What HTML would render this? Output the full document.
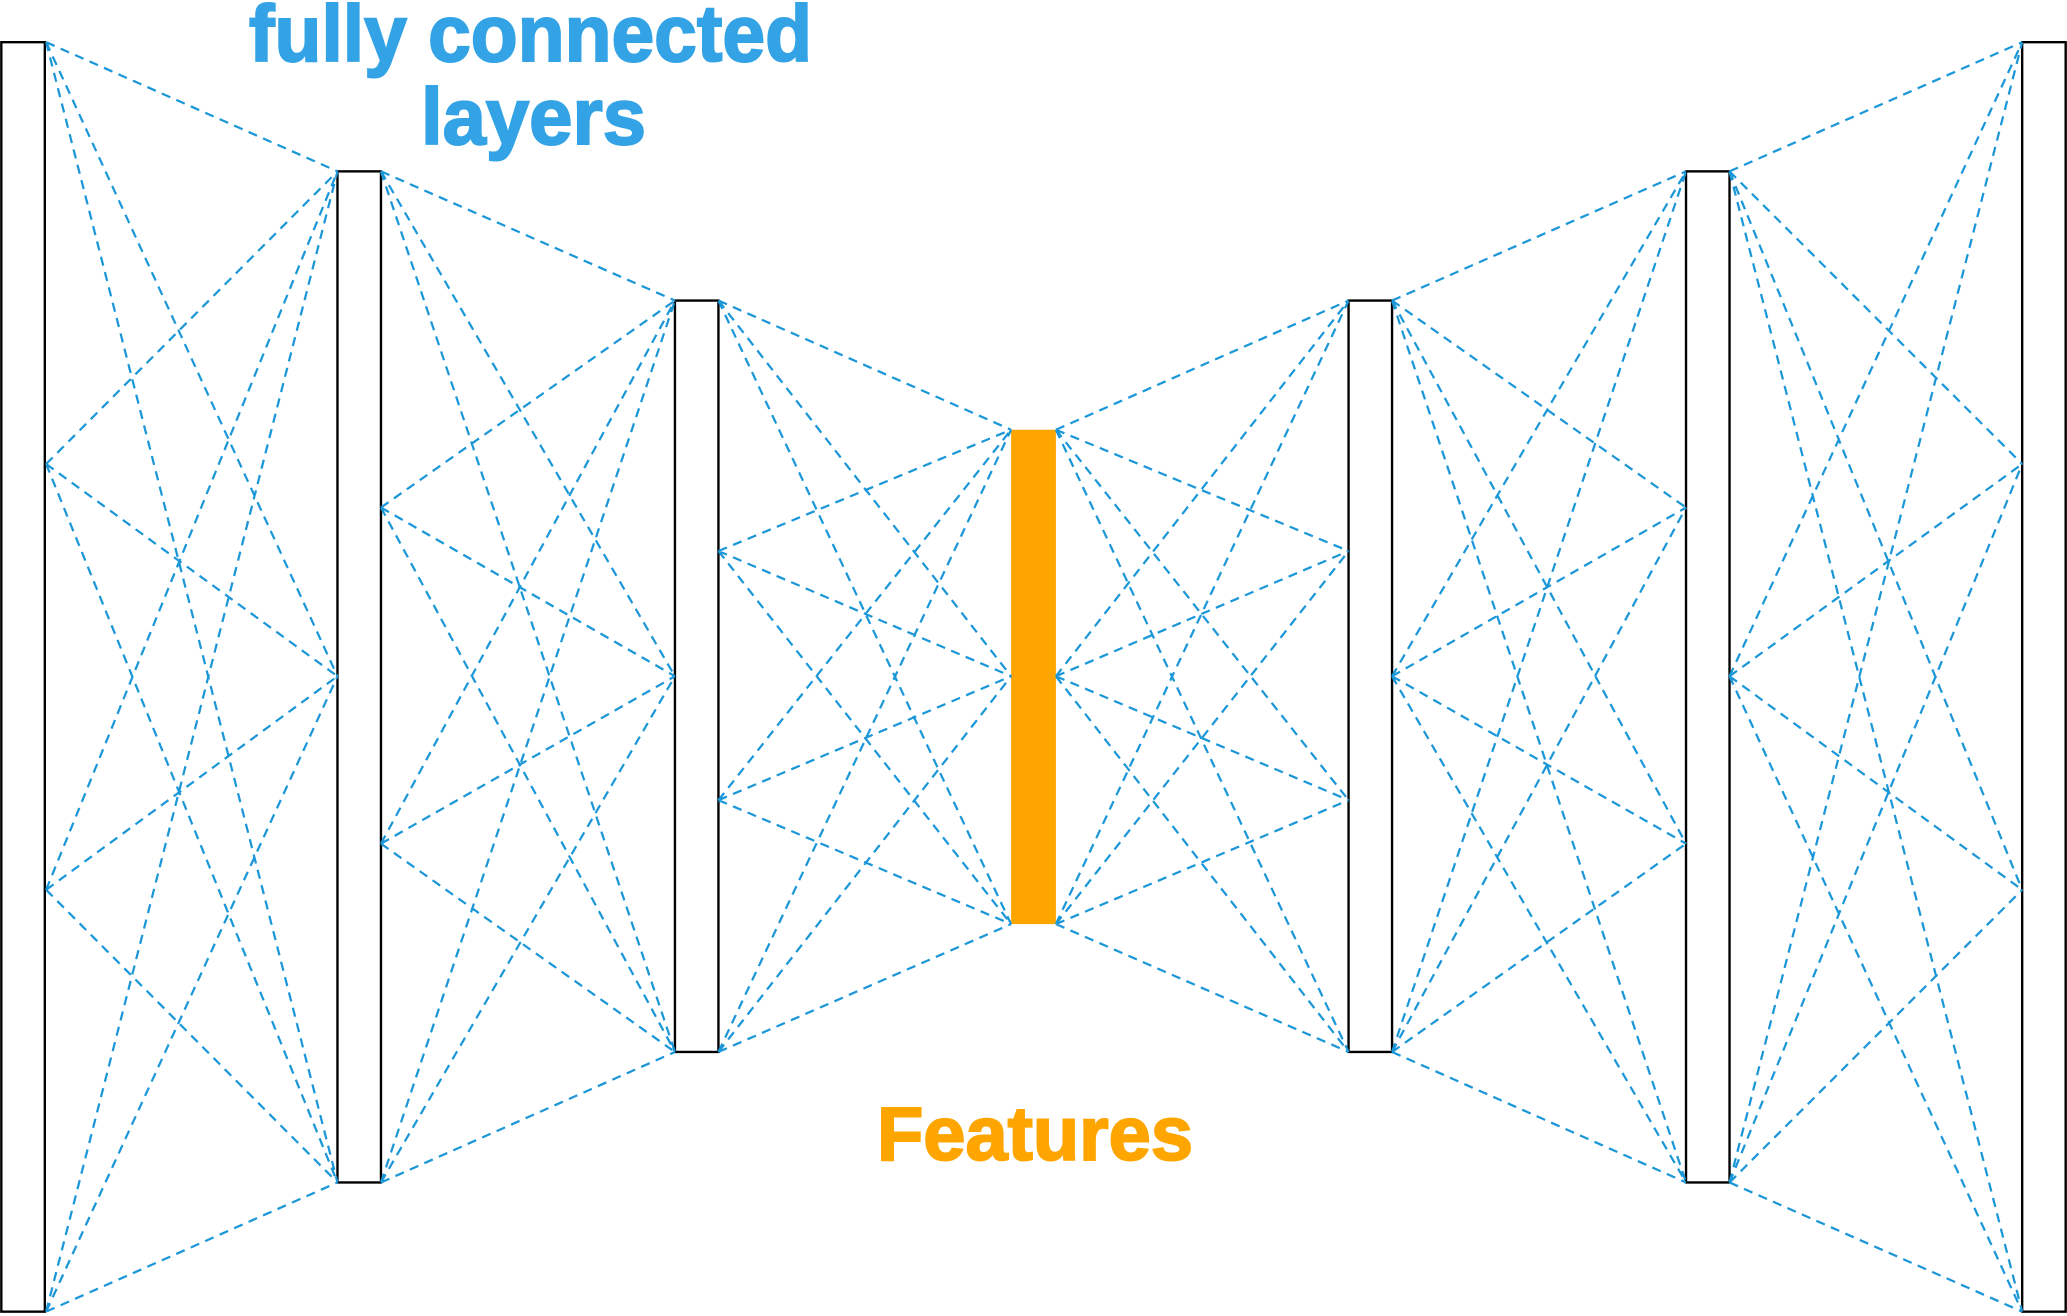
<!DOCTYPE html>
<html><head><meta charset="utf-8"><style>html,body{margin:0;padding:0;background:#fff;width:2067px;height:1316px;overflow:hidden}</style></head>
<body>
<svg width="2067" height="1316" viewBox="0 0 2067 1316" xmlns="http://www.w3.org/2000/svg">
<g transform="scale(1.31824)">
<g fill="#fff" stroke="#000" stroke-width="1.8">
<rect x="1" y="32" width="33" height="963"/>
<rect x="256" y="130" width="33" height="767"/>
<rect x="512" y="228" width="33" height="570"/>
<rect x="1023" y="228" width="33" height="570"/>
<rect x="1279" y="130" width="33" height="767"/>
<rect x="1534" y="32" width="33" height="963"/>
</g>
<rect x="767" y="326" width="34" height="375" fill="#ffa500"/>
<g fill="none" stroke="#1b97d8" stroke-width="1.7" stroke-dasharray="7,5">
<path d="M35 32L256 130M35 32L256 513M35 32L256 897M35 352L256 130M35 352L256 513M35 352L256 897M35 675L256 130M35 675L256 513M35 675L256 897M35 995L256 130M35 995L256 513M35 995L256 897"/>
<path d="M289 130L512 228M289 130L512 513M289 130L512 798M289 385L512 228M289 385L512 513M289 385L512 798M289 640L512 228M289 640L512 513M289 640L512 798M289 897L512 228M289 897L512 513M289 897L512 798"/>
<path d="M545 228L767 326M545 228L767 513M545 228L767 701M545 418L767 326M545 418L767 513M545 418L767 701M545 607L767 326M545 607L767 513M545 607L767 701M545 798L767 326M545 798L767 513M545 798L767 701"/>
<path d="M801 326L1023 228M801 326L1023 418M801 326L1023 607M801 326L1023 798M801 513L1023 228M801 513L1023 418M801 513L1023 607M801 513L1023 798M801 701L1023 228M801 701L1023 418M801 701L1023 607M801 701L1023 798"/>
<path d="M1056 228L1279 130M1056 228L1279 385M1056 228L1279 640M1056 228L1279 897M1056 513L1279 130M1056 513L1279 385M1056 513L1279 640M1056 513L1279 897M1056 798L1279 130M1056 798L1279 385M1056 798L1279 640M1056 798L1279 897"/>
<path d="M1312 130L1534 32M1312 130L1534 352M1312 130L1534 675M1312 130L1534 995M1312 513L1534 32M1312 513L1534 352M1312 513L1534 675M1312 513L1534 995M1312 897L1534 32M1312 897L1534 352M1312 897L1534 675M1312 897L1534 995"/>
</g>
</g>
<g font-family="'Liberation Sans', 'DejaVu Sans', sans-serif" font-weight="bold">
<text x="249" y="61" font-size="80" fill="#33a3e6" stroke="#33a3e6" stroke-width="2" textLength="563" lengthAdjust="spacingAndGlyphs">fully connected</text>
<text x="421" y="144" font-size="80" fill="#33a3e6" stroke="#33a3e6" stroke-width="2" textLength="225" lengthAdjust="spacingAndGlyphs">layers</text>
<text x="877" y="1160" font-size="76" fill="#ffa500" stroke="#ffa500" stroke-width="2" textLength="316" lengthAdjust="spacingAndGlyphs">Features</text>
</g>
</svg>
</body></html>
